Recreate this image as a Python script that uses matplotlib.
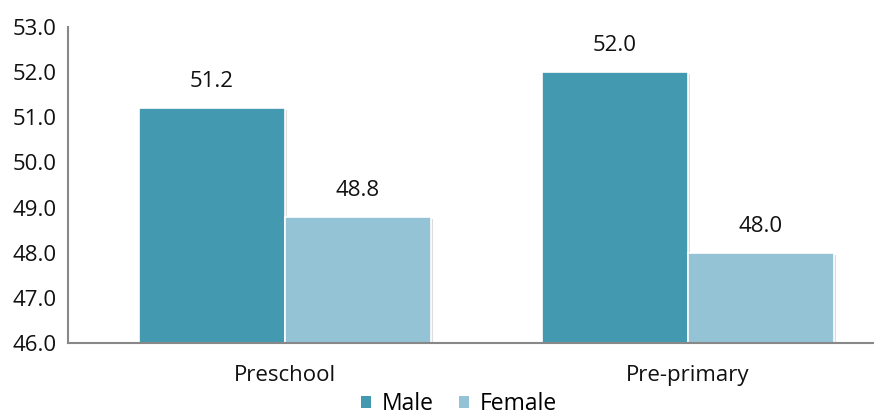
import numpy as np
import matplotlib.pyplot as plt
import matplotlib.patheffects as pe
from matplotlib.patches import Patch

plt.rcParams['font.family'] = ['Open Sans', 'DejaVu Sans']

categories = ['Preschool', 'Pre-primary']
male = [51.2, 52.0]
female = [48.8, 48.0]
yticks = [46.0, 47.0, 48.0, 49.0, 50.0, 51.0, 52.0, 53.0]

male_color = '#4399b0'
female_color = '#93c3d5'

fig = plt.figure(figsize=(8.74, 4.16), dpi=100)
W, H = 874, 416
ax = fig.add_axes([68 / W, 1 - 343 / H, (873 - 68) / W, (343 - 27) / H])

x = np.arange(len(categories))
w = 0.362
shadow = [pe.SimplePatchShadow(offset=(1.5, -1.5), shadow_rgbFace='#bbbbbb', alpha=0.5), pe.Normal()]
ax.bar(x - w / 2, [v - 46 for v in male], w, bottom=46, color=male_color,
       edgecolor='white', linewidth=1.2, path_effects=shadow)
ax.bar(x + w / 2, [v - 46 for v in female], w, bottom=46, color=female_color,
       edgecolor='white', linewidth=1.2, path_effects=shadow)

for xs, vals in [(x - w / 2, male), (x + w / 2, female)]:
    for xi, v in zip(xs, vals):
        ax.annotate(f'{v:.1f}', (xi, v), xytext=(0, 15), textcoords='offset points',
                    ha='center', va='baseline', fontsize=16, color='#111111')

ax.set_xlim(-0.538, 1.459)
ax.set_ylim(46, 53)
ax.set_yticks(yticks)
ax.set_yticklabels([f'{t:.1f}' for t in yticks])
ax.set_xticks(x)
ax.set_xticklabels(categories)
ax.tick_params(axis='both', length=0, labelsize=16, colors='#111111')
ax.tick_params(axis='y', pad=8)
ax.tick_params(axis='x', pad=16)

for s in ['top', 'right']:
    ax.spines[s].set_visible(False)
for s in ['left', 'bottom']:
    ax.spines[s].set_color('#888888')
    ax.spines[s].set_linewidth(1.5)

handles = [Patch(facecolor=male_color, edgecolor='none'), Patch(facecolor=female_color, edgecolor='none')]
fig.legend(handles=handles, labels=['Male', 'Female'], loc='lower center',
           bbox_to_anchor=(459 / W, -0.05), ncol=2, frameon=False, fontsize=16.5,
           handlelength=0.45, handleheight=0.45, handletextpad=0.45, columnspacing=1.1)

fig.savefig('out.png', dpi=100)
